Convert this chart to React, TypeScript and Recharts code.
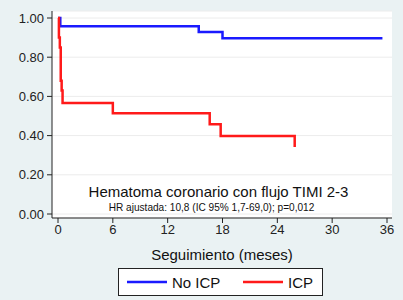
import React from 'react';
import {
  ComposedChart,
  Line,
  XAxis,
  YAxis,
  CartesianGrid,
} from 'recharts';

// Kaplan-Meier curves
const noIcpTime = [0, 0.25, 15.4, 18.0, 35.5];
const noIcpSurv = [1.0, 0.958, 0.928, 0.897, 0.897];
const icpTime = [0, 0.1, 0.2, 0.3, 0.4, 0.5, 6.0, 16.6, 17.8, 25.9];
const icpSurv = [1.0, 0.9, 0.85, 0.68, 0.63, 0.566, 0.514, 0.458, 0.398, 0.342];

const xTicks = [0, 6, 12, 18, 24, 30, 36];
const yTicks = [0, 0.2, 0.4, 0.6, 0.8, 1.0];

const noIcp = noIcpTime.map((t, i) => ({ t, s: noIcpSurv[i] }));
const icp = icpTime.map((t, i) => ({ t, s: icpSurv[i] }));

const FONT = '"Liberation Sans", Arial, sans-serif';
const BLUE = '#1a1aff';
const RED = '#ff1a1a';

const LegendBox = () => (
  <div
    style={{
      position: 'absolute',
      left: 118,
      top: 268,
      width: 203,
      height: 26,
      background: '#fff',
      border: '1px solid #222',
    }}
  >
    <svg width={203} height={26} style={{ position: 'absolute', left: 0, top: 0 }}>
      <line x1={8} x2={48} y1={13} y2={13} stroke={BLUE} strokeWidth={2.5} />
      <text x={53} y={18.5} fontSize={15} fontFamily={FONT} fill="#111">
        No ICP
      </text>
      <line x1={124} x2={164} y1={13} y2={13} stroke={RED} strokeWidth={2.5} />
      <text x={169} y={18.5} fontSize={15} fontFamily={FONT} fill="#111">
        ICP
      </text>
    </svg>
  </div>
);

export default function App() {
  return (
    <div
      style={{
        position: 'fixed',
        left: 0,
        top: 0,
        width: 403,
        height: 300,
        background: '#eaf2f3',
        fontFamily: FONT,
      }}
    >
      <ComposedChart
        width={403}
        height={300}
        margin={{ top: 11, right: 11, bottom: 52, left: 0 }}
        style={{ fontFamily: FONT }}
      >
        <CartesianGrid vertical={false} fill="#fff" stroke="#ececec" strokeWidth={1} />
        <XAxis
          dataKey="t"
          type="number"
          domain={[0, 36]}
          ticks={xTicks}
          allowDuplicatedCategory={false}
          padding={{ left: 6, right: 5 }}
          tickSize={5}
          tickMargin={2}
          stroke="#222"
          tick={{ fill: '#222', fontSize: 13 }}
          height={30}
          label={{
            value: 'Seguimiento (meses)',
            position: 'bottom',
            offset: 1,
            fill: '#111',
            fontSize: 15,
          }}
        />
        <YAxis
          dataKey="s"
          type="number"
          domain={[0, 1]}
          ticks={yTicks}
          width={52}
          padding={{ top: 7, bottom: 4 }}
          tickSize={5}
          tickMargin={3}
          stroke="#222"
          tick={{ fill: '#222', fontSize: 13 }}
          tickFormatter={(v: number) => v.toFixed(2)}
        />
        <Line
          data={noIcp}
          dataKey="s"
          type="stepAfter"
          stroke={BLUE}
          strokeWidth={2.5}
          dot={false}
          activeDot={false}
          isAnimationActive={false}
        />
        <Line
          data={icp}
          dataKey="s"
          type="stepAfter"
          stroke={RED}
          strokeWidth={2.5}
          dot={false}
          activeDot={false}
          isAnimationActive={false}
        />
        <text
          x={218.5}
          y={197}
          textAnchor="middle"
          fontSize={15}
          fontFamily={FONT}
          fill="#111"
        >
          Hematoma coronario con flujo TIMI 2-3
        </text>
        <text
          x={211.5}
          y={211}
          textAnchor="middle"
          fontSize={10.1}
          fontFamily={FONT}
          fill="#111"
        >
          HR ajustada: 10,8 (IC 95% 1,7-69,0); p=0,012
        </text>
      </ComposedChart>
      <LegendBox />
    </div>
  );
}
